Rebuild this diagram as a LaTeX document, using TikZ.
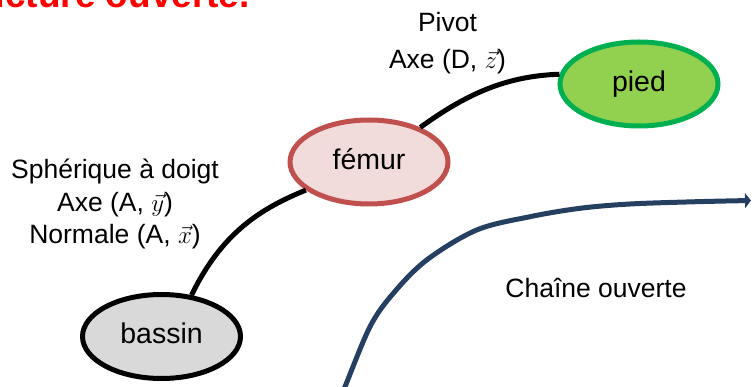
\documentclass[tikz,border=0pt]{standalone}
\usepackage{fontspec}
\setmainfont{Liberation Sans}
\usetikzlibrary{shapes.geometric,arrows.meta}

\definecolor{titlered}{HTML}{FF0000}
\definecolor{bassinfill}{HTML}{D9D9D9}
\definecolor{femurfill}{HTML}{F2DCDB}
\definecolor{femurline}{HTML}{C0504D}
\definecolor{piedfill}{HTML}{92D050}
\definecolor{piedline}{HTML}{00B050}
\definecolor{chainblue}{HTML}{243F60}

\tikzset{
  part/.style={ellipse, draw, line width=5pt, minimum width=158pt,
    minimum height=84pt, inner sep=0pt,
    font=\fontsize{28.5}{34}\selectfont, text height=20.5pt, text depth=6pt},
  link/.style={draw=black, line width=5pt},
  lbl/.style={anchor=base, inner sep=0pt, font=\fontsize{26.5}{32}\selectfont},
  heading/.style={anchor=base west, inner sep=0pt, text=titlered,
    font=\fontsize{37}{44}\selectfont\bfseries},
  chainline/.style={draw=chainblue, line width=5pt,
    -{Triangle[length=6pt,width=15pt]}}
}

\begin{document}
\begin{tikzpicture}[x=1pt,y=-1pt]
  \useasboundingbox (0,0) rectangle (752,387);
  \clip (0,0) rectangle (752,387);

  % heading, running off the top-left corner
  \node[heading] (title) at (-69,8) {Structure ouverte.};

  % the three bodies of the leg
  \node[part, fill=bassinfill, draw=black] (bassin) at (161.5,336.5) {bassin};
  \node[part, fill=femurfill, draw=femurline] (femur) at (369,162) {fémur};
  \node[part, fill=piedfill, draw=piedline] (pied) at (639,84) {pied};

  % joints between the bodies
  \draw[link] (bassin.54) .. controls (222,232) and (262,208) .. (femur.204);
  \draw[link] (femur.34) .. controls (465,95) and (505,76) .. (pied.173);

  % joint descriptions
  \node[lbl] (sph1) at (115,179) {Sphérique à doigt};
  \node[lbl] (sph2) at (115,212) {Axe (A, $\vec{y}$)};
  \node[lbl] (sph3) at (115,244) {Normale (A, $\vec{x}$)};
  \node[lbl] (piv1) at (447.5,32) {Pivot};
  \node[lbl] (piv2) at (447.5,69) {Axe (D, $\vec{z}$)};

  % open-chain arrow
  \coordinate (chainstart) at (340,398);
  \coordinate (chainend) at (751,200.5);
  \draw[chainline] plot[smooth, tension=0.55] coordinates {
    (chainstart) (345,386.7) (370,326.7) (393.3,293.3) (426.7,260)
    (476.7,230) (530,216.7) (580,208.3) (630,204) (696.7,201.7) (chainend)};
  \node[lbl] (chainlbl) at (596,298) {Chaîne ouverte};
\end{tikzpicture}
\end{document}
